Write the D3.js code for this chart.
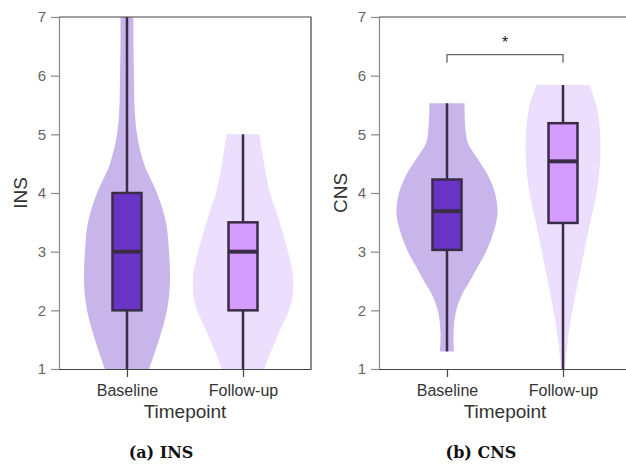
<!DOCTYPE html>
<html>
<head>
<meta charset="utf-8">
<script src="https://cdn.jsdelivr.net/npm/d3@7/dist/d3.min.js"></script>
<style>
  body { margin: 0; background: #fff; }
  text { font-family: "Liberation Sans", Arial, sans-serif; }
</style>
</head>
<body>
<svg id="chart" width="626" height="473"></svg>
<script>
// categories and ticks
var groups = ['Baseline', 'Follow-up'];
var yTicks = [1, 2, 3, 4, 5, 6, 7];

// box stats: [min, q1, median, q3, max]
var insBox = [[1, 2, 3, 4, 7], [1, 2, 3, 3.5, 5]];
var cnsBox = [[1.3, 3.03, 3.69, 4.23, 5.53], [1, 3.49, 4.54, 5.19, 5.84]];

// violin density profiles (relative width at each level)
var insBaseLevels = [1, 1.5, 2, 2.5, 3, 3.5, 4, 4.5, 5, 5.5, 6, 6.5, 7];
var insBaseDensity = [0.44, 0.64, 0.80, 0.86, 0.84, 0.78, 0.60, 0.34, 0.20, 0.15, 0.14, 0.13, 0.13];
var insFollowLevels = [1, 1.3, 1.7, 2, 2.3, 2.7, 3, 3.3, 3.7, 4, 4.5, 5];
var insFollowDensity = [0.42, 0.56, 0.76, 0.92, 1.00, 0.98, 0.90, 0.80, 0.66, 0.54, 0.42, 0.33];

var cnsBaseLevels = [1.3, 1.6, 1.9, 2.1, 2.3, 2.5, 2.75, 3.0, 3.3, 3.65, 4.0, 4.3, 4.6, 4.85, 5.1, 5.53];
var cnsBaseDensity = [0.14, 0.13, 0.16, 0.22, 0.32, 0.46, 0.62, 0.78, 0.92, 1.01, 0.96, 0.82, 0.60, 0.42, 0.37, 0.35];
var cnsFollowLevels = [1, 1.44, 2, 2.69, 3.37, 4.1, 4.78, 5.41, 5.84];
var cnsFollowDensity = [0.04, 0.09, 0.19, 0.35, 0.51, 0.69, 0.75, 0.69, 0.53];

var violinFill = ['#c8b6ea', '#ecdffd'];
var boxFill = ['#6934c6', '#d49cff'];
var ink = '#3a2b46';

var svg = d3.select('#chart');

var panels = [
  {left: 59, title: 'INS', caption: '(a) INS', box: insBox,
   violins: [[insBaseLevels, insBaseDensity], [insFollowLevels, insFollowDensity]]},
  {left: 379, title: 'CNS', caption: '(b) CNS', box: cnsBox,
   violins: [[cnsBaseLevels, cnsBaseDensity], [cnsFollowLevels, cnsFollowDensity]],
   sig: {y: 6.36, leg: 6.22, label: '*'}}
];

var plotTop = 17, plotBottom = 369, plotW = 252;

var y = d3.scaleLinear().domain([1, 7]).range([plotBottom, plotTop]);
var w = d3.scaleLinear().domain([0, 1]).range([0, 50]);

panels.forEach(function(p) {
  var x = d3.scalePoint().domain(groups).range([p.left, p.left + plotW]).padding(0.586);
  var g = svg.append('g');

  // violins
  p.violins.forEach(function(v, i) {
    var cx = x(groups[i]);
    var pts = v[0].map(function(l, j) { return {level: l, dens: v[1][j]}; });
    var area = d3.area()
      .curve(d3.curveCatmullRom)
      .y(function(d) { return y(d.level); })
      .x0(function(d) { return cx - w(d.dens); })
      .x1(function(d) { return cx + w(d.dens); });
    g.append('path').datum(pts).attr('d', area).attr('fill', violinFill[i]);
  });

  // boxes
  p.box.forEach(function(b, i) {
    var cx = x(groups[i]);
    g.append('line')
      .attr('x1', cx).attr('x2', cx)
      .attr('y1', y(b[0])).attr('y2', y(b[4]))
      .attr('stroke', ink).attr('stroke-width', 2.5);
    g.append('rect')
      .attr('x', cx - 14.5).attr('width', 29)
      .attr('y', y(b[3])).attr('height', y(b[1]) - y(b[3]))
      .attr('fill', boxFill[i]).attr('stroke', ink).attr('stroke-width', 2.5);
    g.append('line')
      .attr('x1', cx - 14.5).attr('x2', cx + 14.5)
      .attr('y1', y(b[2])).attr('y2', y(b[2]))
      .attr('stroke', ink).attr('stroke-width', 4);
  });

  // frame top and right
  g.append('path')
    .attr('d', 'M' + p.left + ',' + plotTop + 'H' + (p.left + plotW) + 'V' + plotBottom)
    .attr('fill', 'none').attr('stroke', '#444').attr('stroke-width', 1.2);

  // y axis
  var ya = g.append('g').attr('transform', 'translate(' + p.left + ',0)')
    .call(d3.axisLeft(y).tickValues(yTicks).tickSize(8).tickPadding(5).tickFormat(d3.format('d')));
  ya.select('.domain').attr('stroke', '#888').attr('stroke-width', 1.2);
  ya.selectAll('.tick line').attr('stroke', '#888').attr('stroke-width', 1.2);
  ya.selectAll('.tick text').attr('fill', '#666').style('font-size', '15px')
    .style('font-family', '"Liberation Sans", Arial, sans-serif');

  // x axis
  var xa = g.append('g').attr('transform', 'translate(0,' + plotBottom + ')')
    .call(d3.axisBottom(x).tickSize(8).tickSizeOuter(0).tickPadding(8));
  xa.select('.domain').attr('stroke', '#444').attr('stroke-width', 1.2);
  xa.selectAll('.tick line').attr('stroke', '#444').attr('stroke-width', 1.2);
  xa.selectAll('.tick text').attr('fill', '#333').style('font-size', '16px')
    .style('font-family', '"Liberation Sans", Arial, sans-serif');

  // axis titles
  var cxp = p.left + plotW / 2;
  g.append('text').attr('x', cxp).attr('y', 418)
    .attr('text-anchor', 'middle').attr('fill', '#333')
    .style('font-size', '19px').text('Timepoint');
  g.append('text')
    .attr('transform', 'translate(' + (p.left - 32) + ',' + ((plotTop + plotBottom) / 2) + ') rotate(-90)')
    .attr('text-anchor', 'middle').attr('fill', '#333')
    .style('font-size', '19px').text(p.title);

  // caption
  g.append('text').attr('x', cxp - 24).attr('y', 458)
    .attr('text-anchor', 'middle').attr('fill', '#111')
    .style('font-family', '"DejaVu Serif", serif').style('font-weight', 'bold')
    .style('font-size', '16px').text(p.caption);

  // significance bracket
  if (p.sig) {
    var x0 = x(groups[0]), x1 = x(groups[1]);
    g.append('path')
      .attr('d', 'M' + x0 + ',' + y(p.sig.leg) + 'V' + y(p.sig.y) + 'H' + x1 + 'V' + y(p.sig.leg))
      .attr('fill', 'none').attr('stroke', '#666').attr('stroke-width', 1.3);
    g.append('text').attr('x', (x0 + x1) / 2).attr('y', 48)
      .attr('text-anchor', 'middle').attr('fill', '#222')
      .style('font-size', '16px').text(p.sig.label);
  }
});
</script>
</body>
</html>
